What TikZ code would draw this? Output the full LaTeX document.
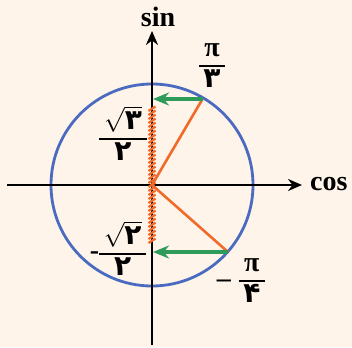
\documentclass[tikz,border=0pt]{standalone}
\usepackage{fontspec}
\setmainfont{Liberation Serif}
\newfontfamily\fadigits[Script=Arabic]{DejaVu Sans}
\usetikzlibrary{arrows.meta,positioning}
\definecolor{bgpeach}{HTML}{FEF4EA}
\definecolor{circblue}{HTML}{4A6BC0}
\definecolor{segorange}{HTML}{F26A2A}
\definecolor{projgreen}{HTML}{2E9B5A}
\tikzset{
  axisline/.style={-{Stealth[length=14pt,width=12pt]}, line width=2.8pt, draw=black},
  unitcirc/.style={draw=circblue, line width=2.8pt},
  rad/.style={draw=segorange, line width=2.6pt},
  proj/.style={-{Stealth[length=16pt,width=13pt]}, line width=3.2pt, draw=projgreen},
  hatch/.style={draw=segorange, line width=2.3pt},
  axlbl/.style={font=\fontsize{28}{30}\selectfont\bfseries, inner sep=0pt},
  val/.style={font=\fontsize{28}{30}\selectfont\bfseries, inner sep=0pt},
}
\newcommand{\fd}[1]{{\fadigits\bfseries #1}}
\newcommand{\vfr}[2]{{\setlength{\arrayrulewidth}{1.8pt}\renewcommand{\arraystretch}{1.0}\begin{tabular}{@{\,}c@{\,}}#1\\\hline #2\end{tabular}}}
\begin{document}
\begin{tikzpicture}[x=1pt, y=-1pt]
  \fill[bgpeach] (0,0) rectangle (352,347);
  \useasboundingbox (0,0) rectangle (352,347);
  % points
  \coordinate (O) at (152,185);
  \coordinate (P3) at (202.5,99);
  \coordinate (P4) at (228,252);
  \coordinate (A3) at (153,99);
  \coordinate (A4) at (153,252);
  \coordinate (xL) at (7,185);
  \coordinate (xR) at (302,185);
  \coordinate (yB) at (152,345);
  \coordinate (yT) at (152,31);
  \coordinate (s3) at (152,107);
  \draw[unitcirc] (O) circle[radius=101];
  \draw[axisline] (xL) -- (xR);
  \draw[axisline] (yB) -- (yT);
  \node[axlbl, anchor=base] (sinlbl) at (158,27) {sin};
  \node[axlbl, anchor=base west] (coslbl) at (310,190) {cos};
  % hatched range on the sin axis
  \foreach \k in {0,...,33}
    \draw[hatch] ([shift={(-3.5,\k*4+4)}]s3) -- ++(7,-4.5);
  \draw[rad] (O) -- (P3);
  \draw[rad] (O) -- (P4);
  \draw[proj] (P3) -- (A3);
  \draw[proj] (P4) -- (A4);
  % labels
  \node[val] (lp3) at (212,66) {\vfr{π}{\fd{۳}}};
  \node[val] (la3) at (123,138) {\vfr{$\sqrt{\hbox{\fd{۳}}}$}{\fd{۲}}};
  \node[val] (la4) at (118,253) {-\vfr{$\sqrt{\hbox{\fd{۲}}}$}{\fd{۲}}};
  \node[val] (lp4) at (241,281) {\textendash\;\vfr{π}{\fd{۴}}};
\end{tikzpicture}
\end{document}
